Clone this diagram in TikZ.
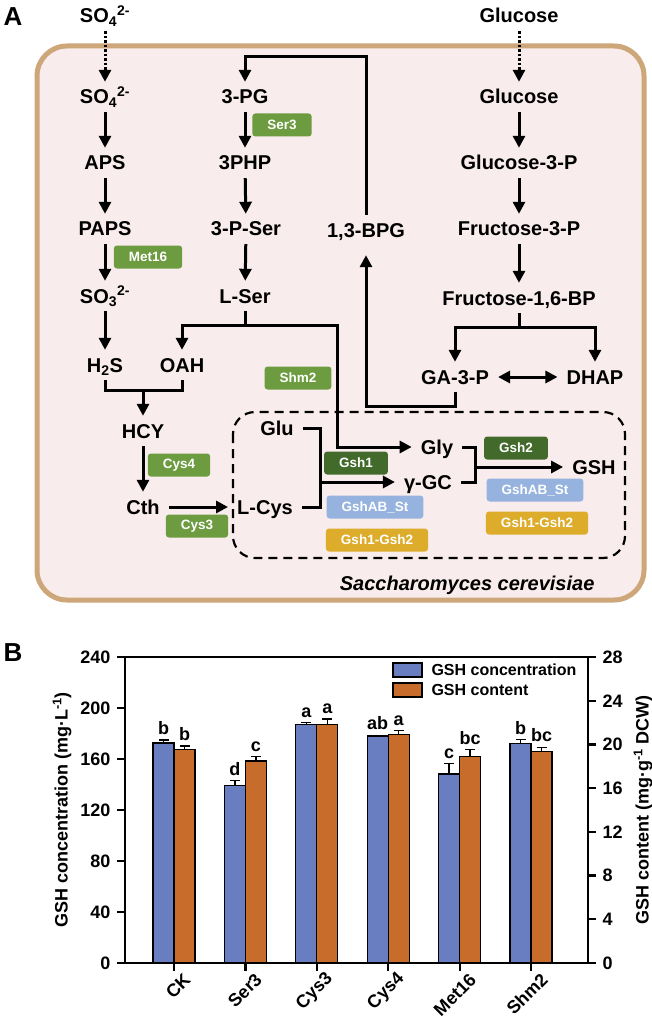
\documentclass[tikz,border=0pt]{standalone}
\usepackage{fontspec}
\setmainfont{Liberation Sans}
\usetikzlibrary{arrows.meta}
\definecolor{cellfill}{RGB}{249,236,236}
\definecolor{cellline}{RGB}{205,166,122}
\definecolor{enzgreen}{RGB}{108,155,64}
\definecolor{enzdark}{RGB}{66,106,42}
\definecolor{enzblue}{RGB}{150,178,222}
\definecolor{enzgold}{RGB}{220,172,42}
\definecolor{barblue}{RGB}{104,126,192}
\definecolor{barorange}{RGB}{200,108,44}

\begin{document}
\begin{tikzpicture}[x=1pt,y=-1pt,
	met/.style={font=\bfseries\fontsize{20}{23}\selectfont, text height=14pt, text depth=0pt, inner xsep=9pt, inner ysep=8pt},
	enz/.style={font=\bfseries\fontsize{13.5}{15}\selectfont, text=white, rounded corners=3pt, minimum height=23pt, inner xsep=15pt, inner ysep=0pt},
	panel/.style={font=\bfseries\fontsize{26}{28}\selectfont},
	line/.style={line width=3pt},
	arr/.style={line, -{Triangle[length=12pt,width=12pt]}},
	dotarr/.style={arr, dash pattern=on 2.5pt off 2pt},
	dbl/.style={line, {Triangle[length=12pt,width=12pt]}-{Triangle[length=12pt,width=12pt]}},
	axis/.style={line width=2.2pt},
	bar/.style={line width=1.2pt},
	err/.style={line width=1.3pt},
	ticklab/.style={font=\bfseries\fontsize{18}{20}\selectfont},
	sig/.style={font=\bfseries\fontsize{18}{20}\selectfont, anchor=south, inner sep=0pt, yshift=5pt}]
				\useasboundingbox (0,0) rectangle (652,1024);

				\draw[line width=5pt, draw=cellline, fill=cellfill, rounded corners=30pt] (37,46) rectangle (644,600);
				\draw[line width=2.2pt, dash pattern=on 9pt off 6pt, rounded corners=22pt] (233,412) rectangle (625,558);

				\node[panel] (panela) at (13,17) {A};
				\node[panel] (panelb) at (13,653) {B};

				\node[met] (so4out) at (105,16) {SO\textsubscript{4}\textsuperscript{2-}};
				\node[met] (so4) at (105,97) {SO\textsubscript{4}\textsuperscript{2-}};
				\node[met] (aps) at (105,163) {APS};
				\node[met] (paps) at (105,229) {PAPS};
				\node[met] (so3) at (105,296) {SO\textsubscript{3}\textsuperscript{2-}};
				\node[met] (h2s) at (105,365) {H\textsubscript{2}S};
				\node[met] (oah) at (182,365) {OAH};
				\node[met] (hcy) at (143,431) {HCY};
				\node[met] (cth) at (143,507) {Cth};
				\node[met] (lcys) at (265,507) {L-Cys};
				\node[met] (glu) at (277,428) {Glu};

				\node[met] (pg3) at (245,97) {3-PG};
				\node[met] (php) at (245,163) {3PHP};
				\node[met] (pser) at (246,229) {3-P-Ser};
				\node[met] (lser) at (245,296) {L-Ser};
				\node[met] (bpg) at (366,230) {1,3-BPG};

				\node[met] (gluout) at (519,16) {Glucose};
				\node[met] (glc) at (519,97) {Glucose};
				\node[met] (g3p) at (519,163) {Glucose-3-P};
				\node[met] (f3p) at (519,229) {Fructose-3-P};
				\node[met] (fbp) at (519,298) {Fructose-1,6-BP};
				\node[met] (ga3p) at (455,377) {GA-3-P};
				\node[met] (dhap) at (595,377) {DHAP};

				\node[met] (gly) at (437,447) {Gly};
				\node[met] (ggc) at (428,482) {γ-GC};
				\node[met] (gsh) at (594,467) {GSH};

				\node[enz, fill=enzgreen] (ser3) at (282,125) {Ser3};
				\node[enz, fill=enzgreen] (met16) at (148,257) {Met16};
				\node[enz, fill=enzgreen] (shm2) at (298,378) {Shm2};
				\node[enz, fill=enzgreen] (cys4) at (179,465) {Cys4};
				\node[enz, fill=enzgreen] (cys3) at (197,526) {Cys3};
				\node[enz, fill=enzdark] (gsh1) at (356,463) {Gsh1};
				\node[enz, fill=enzblue] (gshabl) at (375,507) {GshAB\_St};
				\node[enz, fill=enzgold] (gshfl) at (377,540) {Gsh1-Gsh2};
				\node[enz, fill=enzdark] (gsh2) at (516,448) {Gsh2};
				\node[enz, fill=enzblue] (gshabr) at (535,490) {GshAB\_St};
				\node[enz, fill=enzgold] (gshfr) at (537,523) {Gsh1-Gsh2};

				\node[font=\bfseries\itshape\fontsize{20}{23}\selectfont, anchor=east] (yeast) at (598,585) {Saccharomyces cerevisiae};

				\coordinate (serjoin) at (245,325);
				\coordinate (glyturn) at (337,325);
				\coordinate (sulfjoin) at (143,390);
				\coordinate (cysjoin) at (320,482);
				\coordinate (gshjoin) at (475,467);
				\coordinate (fbpjoin) at (519,327);
				\coordinate (bpgturn) at (366,406);
				\coordinate (pgtop) at (245,57);

				\draw[dotarr] (so4out) -- (so4);
				\draw[arr] (so4) -- (aps);
				\draw[arr] (aps) -- (paps);
				\draw[arr] (paps) -- (so3);
				\draw[arr] (so3) -- (h2s);
				\draw[arr] (pg3) -- (php);
				\draw[arr] (php) -- (pser);
				\draw[arr] (pser) -- (lser);
				\draw[dotarr] (gluout) -- (glc);
				\draw[arr] (glc) -- (g3p);
				\draw[arr] (g3p) -- (f3p);
				\draw[arr] (f3p) -- (fbp);

				\draw[arr] (lser.south) -- (serjoin) -| (oah.north);
				\draw[arr] (serjoin) -- (glyturn) |- (gly.west);
				\draw[line] (h2s.south) |- (sulfjoin) -| (oah.south);
				\draw[arr] (sulfjoin) -- (hcy.north);
				\draw[arr] (hcy) -- (cth);
				\draw[arr] (cth) -- (lcys);
				\draw[line] (glu.east) -| (cysjoin) |- (lcys.east);
				\draw[arr] (cysjoin) -- (ggc.west);
				\draw[line] (gly.east) -| (gshjoin) |- (ggc.east);
				\draw[arr] (gshjoin) -- (gsh.west);

				\draw[line] (fbp.south) -- (fbpjoin);
				\draw[arr] (fbpjoin) -| (ga3p.north);
				\draw[arr] (fbpjoin) -| (dhap.north);
				\draw[dbl] (ga3p) -- (dhap);
				\draw[arr, shorten >=10pt] (ga3p.south) |- (bpgturn) -- (bpg.south);
				\draw[arr] (bpg.north) |- (pgtop) -- (pg3.north);

				\begin{scope}[shift={(125,963)}, y=1.275pt]
					\foreach \name/\conc/\cont/\econc/\econt/\lconc/\lcont [count=\i from 0] in
						{CK/172.5/167.3/2.4/3/b/b, Ser3/139.4/158.4/3.6/3.4/d/c, Cys3/186.9/186.9/1.6/4.5/a/a,
						Cys4/178/179.4/0.6/3/ab/a, Met16/148.3/162/8/5.5/c/bc, Shm2/172/165.8/3.3/3.5/b/bc} {
						\pgfmathsetmacro\cx{49+71.4*\i}
						\draw[bar, fill=barblue] (\cx-21,0) rectangle (\cx,\conc);
						\draw[bar, fill=barorange] (\cx,0) rectangle (\cx+21,\cont);
						\draw[err] (\cx-10.5,\conc) -- (\cx-10.5,\conc+\econc);
						\draw[err] (\cx-15.5,\conc+\econc) -- (\cx-5.5,\conc+\econc);
						\draw[err] (\cx+10.5,\cont) -- (\cx+10.5,\cont+\econt);
						\draw[err] (\cx+5.5,\cont+\econt) -- (\cx+15.5,\cont+\econt);
						\node[sig] (sigc\i) at (\cx-10.5,\conc+\econc) {\lconc};
						\node[sig] (sigt\i) at (\cx+10.5,\cont+\econt) {\lcont};
						\draw[axis] (\cx,0) -- ++(0,-8pt);
						\node[ticklab, rotate=45, anchor=east, inner sep=1pt, xshift=1pt, yshift=-19pt] (xlab\i) at (\cx,0) {\name};
					}
					\draw[axis] (0,0) rectangle (463,240);
					\foreach \v in {0,40,...,240} {
						\draw[axis] (0,\v) -- ++(-8pt,0);
						\node[ticklab, anchor=east] (ly\v) at (-11,\v) {\v};
					}
					\foreach \rv in {0,4,...,28} {
						\draw[axis] (463,\rv*240/28) -- ++(8pt,0);
						\node[ticklab, anchor=west] (ry\rv) at (474,\rv*240/28) {\rv};
					}
					\node[ticklab, rotate=90] (ltitle) at (-63,120) {GSH concentration (mg·L\textsuperscript{-1})};
					\node[ticklab, rotate=90] (rtitle) at (518,120) {GSH content (mg·g\textsuperscript{-1} DCW)};
					\draw[bar, fill=barblue] (268,224.3) rectangle (297,235.3);
					\draw[bar, fill=barorange] (268,208.6) rectangle (297,219.6);
					\node[font=\bfseries\fontsize{16}{18}\selectfont, anchor=west] (legconc) at (303,229.8) {GSH concentration};
					\node[font=\bfseries\fontsize{16}{18}\selectfont, anchor=west] (legcont) at (303,214.1) {GSH content};
				\end{scope}
			\end{tikzpicture}
\end{document}
